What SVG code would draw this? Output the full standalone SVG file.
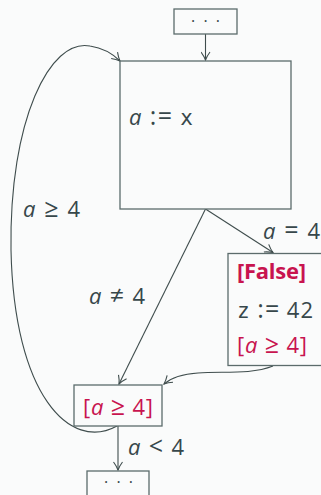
<svg xmlns="http://www.w3.org/2000/svg" width="321" height="495" viewBox="0 0 321 495">
<style>
.bg{fill:#fafbfb}
.box{fill:#fafbfb;stroke:#5b6b6b;stroke-width:1.3}
.edge{fill:none;stroke:#3f4d4d;stroke-width:1.1}
text{font-family:"Open Sans","Lato","Liberation Sans",sans-serif;font-size:22px;fill:#37474a}
.m{font-style:italic}
.o{font-size:25px}
.r{fill:#c8144f}
.b{font-weight:bold}
.tt{font-family:"DejaVu Sans Mono","Liberation Mono",monospace;font-size:21px}
.dots{font-size:16px}
</style>
<defs>
<marker id="ah" viewBox="0 0 10 10" refX="9" refY="5" markerWidth="10" markerHeight="10" markerUnits="userSpaceOnUse" orient="auto">
<path d="M1,0.5 Q5,3.5 9,5 Q5,6.5 1,9.5" fill="none" stroke="#3f4d4d" stroke-width="1.1"/>
</marker>
</defs>
<rect class="bg" x="0" y="0" width="321" height="495"/>
<g id="connectors">
<path class="edge" d="M205.5,34 L205.5,60" marker-end="url(#ah)"/>
<path class="edge" d="M205.5,209 L273,252.5" marker-end="url(#ah)"/>
<path class="edge" d="M205.5,209 L119,384" marker-end="url(#ah)"/>
<path class="edge" d="M273,366 C250,375 222,371 198,373 C182,374 171,378 164,384" marker-end="url(#ah)"/>
<path class="edge" d="M117,426 C70,452 14,395 11,250 C9,120 50,38 90,46 C103,48 113,54 120,61" marker-end="url(#ah)"/>
<path class="edge" d="M118,426 L118,470" marker-end="url(#ah)"/>
<text x="23" y="217" textLength="57" lengthAdjust="spacing"><tspan class="m">a</tspan> <tspan class="o">≥</tspan> 4</text>
<text x="263" y="239" textLength="57" lengthAdjust="spacing"><tspan class="m">a</tspan> <tspan class="o">=</tspan> 4</text>
<text x="89" y="304" textLength="56" lengthAdjust="spacing"><tspan class="m">a</tspan> <tspan class="o">≠</tspan> 4</text>
<text x="128" y="455" textLength="56" lengthAdjust="spacing"><tspan class="m">a</tspan> <tspan class="o">&lt;</tspan> 4</text>
</g>
<g id="n_top">
<rect class="box" x="174" y="9" width="63" height="25"/>
<text x="191" y="27" class="dots" textLength="29" lengthAdjust="spacing">· · ·</text>
</g>
<g id="n_main">
<rect class="box" x="120" y="61" width="171" height="148"/>
<text x="129" y="125" textLength="64" lengthAdjust="spacing"><tspan class="m">a</tspan> <tspan class="o">:=</tspan> <tspan class="tt">x</tspan></text>
</g>
<g id="n_false">
<rect class="box" x="228" y="253.5" width="94" height="112"/>
<text x="237" y="279" class="r b" textLength="69" lengthAdjust="spacing">[False]</text>
<text x="237" y="318" textLength="76" lengthAdjust="spacing"><tspan class="tt">z</tspan> <tspan class="o">:=</tspan> 42</text>
<text x="237" y="353" class="r" textLength="70" lengthAdjust="spacing">[<tspan class="m">a</tspan> <tspan class="o">≥</tspan> 4]</text>
</g>
<g id="n_join">
<rect class="box" x="74" y="385" width="88" height="41"/>
<text x="83" y="415" class="r" textLength="70" lengthAdjust="spacing">[<tspan class="m">a</tspan> <tspan class="o">≥</tspan> 4]</text>
</g>
<g id="n_bottom">
<rect class="box" x="87" y="471" width="62" height="30"/>
<text x="104" y="488" class="dots" textLength="29" lengthAdjust="spacing">· · ·</text>
</g>
</svg>
